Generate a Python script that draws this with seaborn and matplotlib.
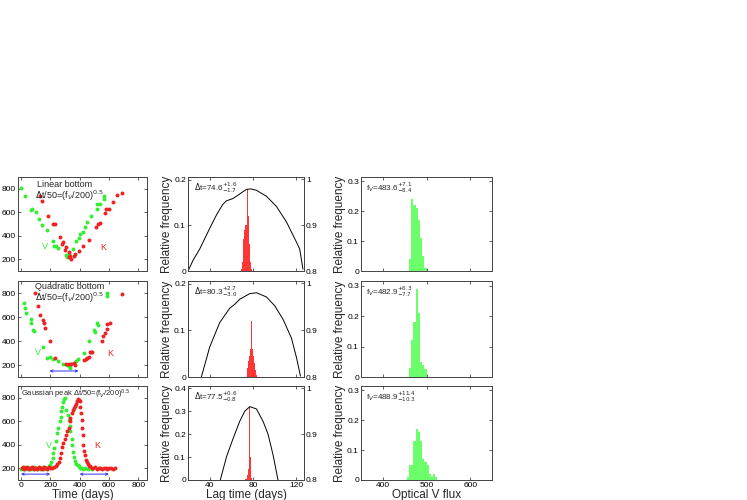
import matplotlib
matplotlib.use("Agg")
from matplotlib import pyplot as plt
import numpy as np
import pandas as pd
import seaborn as sns

# ---- light curves (column 1) ----
lin_v_t = [0, 30, 70, 75, 104, 120, 143, 177, 218, 227, 240, 250, 304, 313, 325, 354, 377, 393, 400, 422, 438, 450, 477, 518, 518, 536, 568, 568]
lin_v_f = [806, 738, 617, 631, 603, 546, 490, 448, 355, 313, 315, 300, 237, 222, 242, 285, 355, 383, 411, 434, 476, 518, 566, 631, 668, 673, 738, 715]
lin_k_t = [127, 143, 184, 222, 229, 268, 286, 279, 309, 302, 325, 325, 336, 340, 359, 370, 393, 422, 461, 513, 529, 540, 574, 581, 604, 631, 658, 688]
lin_k_f = [738, 693, 566, 496, 504, 392, 344, 327, 301, 276, 265, 222, 231, 203, 231, 242, 270, 313, 363, 476, 496, 510, 594, 625, 625, 687, 749, 766]

quad_v_t = [18, 30, 36, 68, 68, 82, 91, 150, 177, 195, 222, 256, 290, 313, 325, 336, 340, 377, 386, 431, 461, 500, 507, 522, 529, 590, 590]
quad_v_f = [720, 677, 634, 583, 549, 491, 483, 349, 257, 269, 246, 234, 211, 200, 189, 171, 206, 234, 246, 297, 400, 491, 477, 549, 534, 800, 777]
quad_k_t = [98, 116, 127, 150, 154, 166, 195, 234, 309, 325, 340, 363, 370, 427, 445, 454, 461, 468, 477, 484, 552, 563, 574, 586, 590, 608, 688]
quad_k_f = [800, 691, 620, 577, 554, 506, 400, 257, 211, 206, 206, 217, 197, 243, 249, 257, 269, 306, 306, 306, 400, 443, 463, 540, 497, 554, 789]

gau_v_t = [0, 8, 15, 22, 30, 38, 45, 55, 62, 70, 80, 90, 100, 110, 120, 130, 140, 150, 160, 170, 180, 190,
           200, 208, 216, 222, 228, 240, 248, 256, 264, 270, 276, 281, 286, 292, 298,
           310, 318, 325, 332, 338, 345, 350, 356, 362, 370, 378, 386, 395, 405, 415, 425, 440, 455, 470, 485]
gau_v_f = [195, 205, 200, 190, 210, 195, 200, 205, 190, 200, 195, 210, 200, 195, 205, 190, 200, 210, 195, 200, 205, 215,
           225, 250, 290, 330, 370, 430, 500, 540, 600, 640, 690, 720, 760, 790, 800,
           700, 650, 610, 560, 520, 450, 400, 340, 300, 260, 240, 230, 215, 205, 200, 195, 200, 190, 200, 195]
gau_k_t = [5, 12, 20, 28, 36, 44, 52, 60, 70, 78, 86, 95, 104, 112, 120, 128, 136, 145, 154, 162, 170, 180, 190, 200, 212, 224, 236,
           248, 258, 266, 274, 282, 290, 298, 306, 315, 325, 332, 338, 345, 352, 359, 366, 374, 382, 390, 396, 402,
           406, 410, 414, 418, 422, 426, 430, 436, 442, 448, 455, 462, 472, 482, 494, 506, 518, 530, 542, 554, 566, 578, 590, 602, 614, 626, 640]
gau_k_f = [200, 210, 195, 205, 200, 210, 195, 205, 200, 210, 195, 205, 200, 195, 210, 200, 205, 195, 210, 200, 205, 195, 210, 200, 205, 210, 215,
           235, 250, 290, 333, 380, 418, 446, 480, 520, 545, 600, 630, 670, 700, 715, 730, 750, 770, 790, 780, 770,
           720, 670, 610, 540, 480, 400, 350, 310, 270, 250, 235, 220, 215, 205, 200, 210, 195, 205, 200, 195, 205, 200, 195, 205, 200, 195, 200]

curves = [(lin_v_t, lin_v_f, lin_k_t, lin_k_f),
          (quad_v_t, quad_v_f, quad_k_t, quad_k_f),
          (gau_v_t, gau_v_f, gau_k_t, gau_k_f)]
arrow_ranges = [[], [(195, 393)], [(0, 200), (400, 600)]]
arrow_level = 150

# ---- lag histograms (column 2) ----
lag_edges = [[69, 70, 71, 72, 73, 74, 75, 76, 77, 78, 79],
             [74, 75, 76, 77, 78, 79, 80, 81, 82, 83, 84],
             [73, 74, 75, 76, 77, 78, 79]]
lag_heights = [[0.005, 0.02, 0.07, 0.09, 0.10, 0.18, 0.12, 0.06, 0.02, 0.005],
               [0.02, 0.035, 0.045, 0.06, 0.12, 0.06, 0.045, 0.03, 0.015, 0.005],
               [0.005, 0.02, 0.05, 0.32, 0.10, 0.01]]
like_x = [[20, 25, 30.8, 40, 46.2, 52, 55.4, 61.5, 67.7, 73.9, 78, 83.1, 92.3, 101.5, 110.8, 120, 123, 126],
          [32.3, 40, 49.2, 58.5, 63, 67.7, 76.9, 83.1, 92.3, 100, 107.7, 115.4, 120, 123.7],
          [49.8, 55.4, 61.5, 67.7, 72.3, 77, 83.1, 89.2, 93.8, 98.5, 103]]
like_y = [[0.800, 0.825, 0.848, 0.893, 0.922, 0.945, 0.953, 0.958, 0.968, 0.978, 0.979, 0.976, 0.963, 0.941, 0.907, 0.863, 0.848, 0.804],
          [0.800, 0.864, 0.916, 0.947, 0.955, 0.966, 0.978, 0.980, 0.971, 0.952, 0.923, 0.883, 0.842, 0.802],
          [0.800, 0.850, 0.890, 0.928, 0.950, 0.960, 0.955, 0.928, 0.900, 0.854, 0.800]]
lag_ylim = [0.206, 0.206, 0.41]
lag_yticks = [[0, 0.1, 0.2], [0, 0.1, 0.2], [0, 0.1, 0.2, 0.3, 0.4]]
lag_text = [r"$\Delta$t=74.6$^{+1.6}_{-1.7}$", r"$\Delta$t=80.3$^{+2.7}_{-3.0}$", r"$\Delta$t=77.5$^{+0.6}_{-0.8}$"]

# ---- flux histograms (column 3) ----
flux_edges = [[460, 465, 470, 475, 480, 485, 490, 495, 500],
              [460, 465, 470, 475, 480, 485, 490, 495, 500],
              [455, 460, 465, 470, 475, 480, 485, 490, 495, 500, 505, 510, 515, 520, 525]]
flux_heights = [[0.04, 0.24, 0.22, 0.21, 0.17, 0.11, 0.05, 0.01],
                [0.03, 0.12, 0.18, 0.29, 0.21, 0.05, 0.04, 0.025],
                [0.01, 0.05, 0.05, 0.13, 0.17, 0.16, 0.13, 0.07, 0.06, 0.05, 0.02, 0.01, 0.02, 0.01]]
flux_text = [r"f$_V$=483.6$^{+7.1}_{-8.4}$", r"f$_V$=482.9$^{+6.3}_{-7.7}$", r"f$_V$=488.9$^{+11.4}_{-10.3}$"]

sns.set_theme(style="ticks")
plt.rcParams['font.family'] = ['Liberation Sans', 'DejaVu Sans']
plt.rcParams.update({
    'xtick.direction': 'in', 'ytick.direction': 'in',
    'xtick.major.size': 2.5, 'ytick.major.size': 2.5,
    'xtick.major.width': 0.6, 'ytick.major.width': 0.6,
    'xtick.labelsize': 6, 'ytick.labelsize': 6,
    'xtick.major.pad': 1.5, 'ytick.major.pad': 1.5,
    'axes.edgecolor': '#444444', 'axes.linewidth': 0.7,
    'xtick.color': '#444444', 'ytick.color': '#444444',
    'xtick.labelcolor': 'black', 'ytick.labelcolor': 'black',
    'mathtext.fontset': 'dejavusans',
})

fig = plt.figure(figsize=(7.47, 5.0), dpi=100)
rows_y = [(0.458, 0.188), (0.246, 0.192), (0.040, 0.188)]
green = '#33ee33'
red = '#ee2222'
fmt = matplotlib.ticker.FormatStrFormatter('%g')

for r, (b, h) in enumerate(rows_y):
    last = r == 2
    # --- column 1 ---
    ax = fig.add_axes([0.0241, b, 0.1727, h])
    vt, vf, kt, kf = curves[r]
    dv = pd.DataFrame({'t': vt, 'f': vf})
    dk = pd.DataFrame({'t': kt, 'f': kf})
    sns.scatterplot(data=dv, x='t', y='f', ax=ax, color=green, s=8, linewidth=0)
    sns.scatterplot(data=dk, x='t', y='f', ax=ax, color=red, s=8, linewidth=0)
    for a0, a1 in arrow_ranges[r]:
        ax.annotate('', xy=(a0, arrow_level), xytext=(a1, arrow_level),
                    arrowprops=dict(arrowstyle='<->', color='#3333ff', lw=0.7,
                                    mutation_scale=4, shrinkA=0, shrinkB=0))
    ax.set_xlim(-20, 860)
    ax.set_ylim(100, 900)
    ax.set_xticks([0, 200, 400, 600, 800])
    ax.set_yticks([200, 400, 600, 800])
    ax.tick_params(top=True, right=True)
    ax.set_ylabel('')
    if last:
        ax.set_xlabel('Time (days)', fontsize=8.5, labelpad=0)
    else:
        ax.set_xlabel('')
        ax.set_xticklabels([])
    vpos = [(165, 307, 563, 300), (114, 306, 609, 297), (189, 395, 518, 395)][r]
    ax.text(vpos[0], vpos[1], 'V', color=green, fontsize=6.5, ha='center', va='center')
    ax.text(vpos[2], vpos[3], 'K', color=red, fontsize=6.5, ha='center', va='center')
    law = r"$\Delta$t/50=(f$_V$/200)$^{0.5}$"
    if r == 0:
        ax.text(0.36, 0.92, 'Linear bottom', transform=ax.transAxes, fontsize=6.5, ha='center', va='center')
        ax.text(0.40, 0.80, law, transform=ax.transAxes, fontsize=6.5, ha='center', va='center')
    elif r == 1:
        ax.text(0.40, 0.94, 'Quadratic bottom', transform=ax.transAxes, fontsize=6.5, ha='center', va='center')
        ax.text(0.40, 0.83, law, transform=ax.transAxes, fontsize=6.5, ha='center', va='center')
    else:
        ax.text(0.02, 0.985, 'Gaussian peak ' + law, transform=ax.transAxes, fontsize=5.4, ha='left', va='top')

    # --- column 2 ---
    ax2 = fig.add_axes([0.2517, b, 0.1553, h])
    e = lag_edges[r]
    centers = [(e[i] + e[i + 1]) / 2 for i in range(len(e) - 1)]
    sns.histplot(x=centers, weights=lag_heights[r], bins=e, ax=ax2,
                 color='#ff2020', alpha=0.9, edgecolor='none', linewidth=0)
    ax2.set_xlim(20, 127)
    ax2.set_ylim(0, lag_ylim[r])
    ax2.set_yticks(lag_yticks[r])
    ax2.yaxis.set_major_formatter(fmt)
    ax2.set_xticks([40, 80, 120])
    ax2.tick_params(top=True)
    ax2.set_ylabel('Relative frequency', fontsize=8.5, labelpad=1)
    if last:
        ax2.set_xlabel('Lag time (days)', fontsize=8.5, labelpad=0)
    else:
        ax2.set_xlabel('')
        ax2.set_xticklabels([])
    ax2.text(0.05, 0.97, lag_text[r], transform=ax2.transAxes, fontsize=5.8, ha='left', va='top')
    tw = ax2.twinx()
    sns.lineplot(x=like_x[r], y=like_y[r], ax=tw, color='black', linewidth=0.7)
    tw.set_ylim(0.8, 1.005)
    tw.set_yticks([0.8, 0.9, 1.0])
    tw.yaxis.set_major_formatter(fmt)
    tw.tick_params(direction='in', length=2.5, labelsize=6, pad=1.5)
    tw.set_ylabel('')

    # --- column 3 ---
    ax3 = fig.add_axes([0.4833, b, 0.1754, h])
    e = flux_edges[r]
    centers = [(e[i] + e[i + 1]) / 2 for i in range(len(e) - 1)]
    sns.histplot(x=centers, weights=flux_heights[r], bins=e, ax=ax3,
                 color='#5cff5c', alpha=0.9, edgecolor='none', linewidth=0)
    ax3.set_xlim(350, 650)
    ax3.set_ylim(0, 0.315)
    ax3.set_yticks([0, 0.1, 0.2, 0.3])
    ax3.yaxis.set_major_formatter(fmt)
    ax3.set_xticks([400, 500, 600])
    ax3.tick_params(top=True, right=True)
    ax3.set_ylabel('Relative frequency', fontsize=8.5, labelpad=1)
    if last:
        ax3.set_xlabel('Optical V flux', fontsize=8.5, labelpad=0)
    else:
        ax3.set_xlabel('')
        ax3.set_xticklabels([])
    ax3.text(0.04, 0.97, flux_text[r], transform=ax3.transAxes, fontsize=5.8, ha='left', va='top')

fig.savefig('out.png', dpi=100)
